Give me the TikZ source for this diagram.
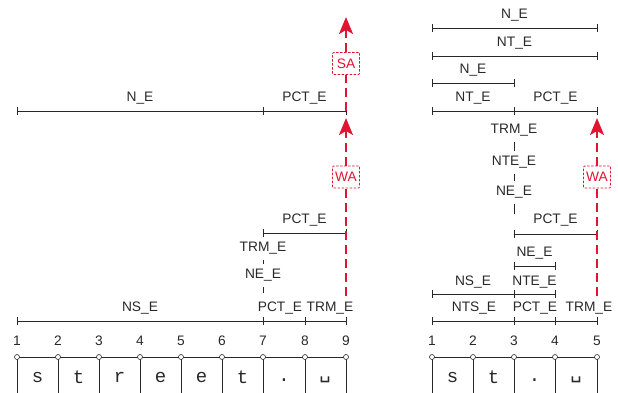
\documentclass[tikz,border=0pt]{standalone}
\usepackage{fontspec}
\setmainfont{Liberation Sans}
\newfontfamily\chrfont{Liberation Mono}
\newfontfamily\symfont{DejaVu Sans Mono}
\usetikzlibrary{arrows.meta}
\definecolor{wred}{RGB}{225,20,50}
\definecolor{ink}{RGB}{40,40,40}
\newcommand\spanrow[4]{%
  \draw[span] (#2,#1) -- (#3,#1);
  \foreach \t in {#4} \draw[span] (\t,#1-4) -- (\t,#1+4);}
\begin{document}
\begin{tikzpicture}[x=1bp,y=-1bp,
  lbl/.style={font=\fontsize{13.8}{14}\selectfont, inner sep=1.5pt, text=ink},
  num/.style={font=\fontsize{13.8}{14}\selectfont, inner sep=1pt, text=ink},
  chr/.style={font=\chrfont\fontsize{19}{19}\selectfont, inner sep=0pt, text=ink},
  span/.style={line width=0.7bp, draw=ink},
  tree/.style={line width=0.7bp, draw=ink, shorten <=4bp, shorten >=3.5bp},
  dot/.style={circle, draw=ink, fill=white, line width=0.6bp, inner sep=0pt, minimum size=5bp},
  warrow/.style={draw=wred, line width=2.2bp, dash pattern=on 9bp off 5bp},
  wtip/.style={-{Stealth[length=17bp,width=14bp,inset=4bp]}},
  wbox/.style={draw=wred, fill=white, line width=0.7bp, dash pattern=on 2.5bp off 1.5bp,
     rounded corners=1bp, text=wred, font=\fontsize{13.8}{14}\selectfont,
     minimum width=27bp, minimum height=22bp, inner sep=1pt}
]
\useasboundingbox (0,0) rectangle (618,392);

% ================= LEFT =================
% tape
\draw[span] (17,357) -- (346,357);
\foreach \x [count=\i] in {17,58,99,140,181,222,263,305,346} {
  \draw[span] (\x,357) -- (\x,400);
  \node[num] (ln\i) at (\x,341) {\i};
  \node[dot] (lp\i) at (\x,357) {};
}
\foreach \c/\x [count=\i] in {s/37.5,t/78.5,r/119.5,e/160.5,e/201.5,t/242.5} {
  \node[chr] (lc\i) at (\x,377.5) {\c};
}
\node[chr] (lc7) at (284,380) {.};
\node[chr] (lc8) at (325,380) {\symfont ␣};

% bottom spans
\spanrow{321}{17}{346}{17,263,305,346}
\node[lbl] (lNS) at (140,308) {NS\_E};
\node[lbl] (lPCT1) at (280,308) {PCT\_E};
\node[lbl] (lTRM1) at (330,308) {TRM\_E};

% tree
\coordinate (l7top) at (263,296);
\node[lbl] (lNE) at (263,275) {NE\_E};
\node[lbl] (lTRM2) at (263,248) {TRM\_E};
\draw[tree] (lTRM2) -- (lNE);
\draw[tree] (lNE) -- (l7top);
\spanrow{233}{263}{346}{263,346}
\node[lbl] (lPCT2) at (304.5,220) {PCT\_E};

% top spans
\spanrow{111}{17}{346}{17,263,346}
\node[lbl] (lN) at (140,98) {N\_E};
\node[lbl] (lPCT3) at (304.5,98) {PCT\_E};

% red arrows
\coordinate (l9a) at (346,296);
\coordinate (l9b) at (346,118);
\coordinate (l9c) at (346,111);
\coordinate (l9d) at (346,17);
\node[wbox] (lWA) at (346,177) {WA};
\draw[warrow] (l9a) -- (lWA.south);
\draw[warrow,wtip] (lWA.north) -- (l9b);
\node[wbox] (lSA) at (346,63.5) {SA};
\draw[warrow] (l9c) -- (lSA.south);
\draw[warrow,wtip] (lSA.north) -- (l9d);

% ================= RIGHT =================
\draw[span] (432,357) -- (597,357);
\foreach \x [count=\i] in {432,473,514,555,597} {
  \draw[span] (\x,357) -- (\x,400);
  \node[num] (rn\i) at (\x,341) {\i};
  \node[dot] (rp\i) at (\x,357) {};
}
\node[chr] (rc1) at (452.5,377.5) {s};
\node[chr] (rc2) at (493.5,377.5) {t};
\node[chr] (rc3) at (534.5,380) {.};
\node[chr] (rc4) at (576,380) {\symfont ␣};

\spanrow{321}{432}{597}{432,514,555,597}
\node[lbl] (rNTS) at (474,308) {NTS\_E};
\node[lbl] (rPCT1) at (535,308) {PCT\_E};
\node[lbl] (rTRM1) at (589,308) {TRM\_E};

\spanrow{294}{432}{555}{432,514,555}
\node[lbl] (rNS) at (473,282) {NS\_E};
\node[lbl] (rNTE1) at (534.5,282) {NTE\_E};

\spanrow{266}{514}{555}{514,555}
\node[lbl] (rNE1) at (534.5,253) {NE\_E};

\spanrow{234}{514}{597}{514,597}
\node[lbl] (rPCT2) at (555.5,220) {PCT\_E};

\coordinate (r3top) at (514,217);
\node[lbl] (rNE2) at (514,192) {NE\_E};
\node[lbl] (rNTE2) at (514,162) {NTE\_E};
\node[lbl] (rTRM2) at (514,130) {TRM\_E};
\draw[tree] (rTRM2) -- (rNTE2);
\draw[tree] (rNTE2) -- (rNE2);
\draw[tree] (rNE2) -- (r3top);

\spanrow{111}{432}{597}{432,514,597}
\node[lbl] (rNT1) at (473,98) {NT\_E};
\node[lbl] (rPCT3) at (555.5,98) {PCT\_E};

\spanrow{83}{432}{514}{432,514}
\node[lbl] (rN1) at (473,70) {N\_E};

\spanrow{56}{432}{597}{432,597}
\node[lbl] (rNT2) at (514.5,43) {NT\_E};

\spanrow{28}{432}{597}{432,597}
\node[lbl] (rN2) at (514.5,15) {N\_E};

\coordinate (r5a) at (597,296);
\coordinate (r5b) at (597,118);
\node[wbox] (rWA) at (597,177) {WA};
\draw[warrow] (r5a) -- (rWA.south);
\draw[warrow,wtip] (rWA.north) -- (r5b);
\end{tikzpicture}
\end{document}
